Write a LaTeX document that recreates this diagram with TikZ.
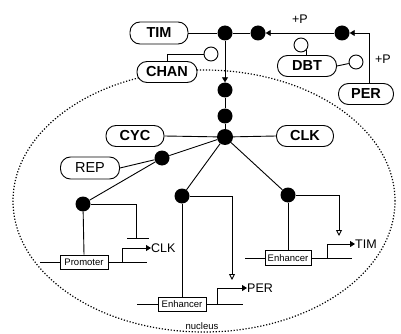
\documentclass[tikz,border=0pt]{standalone}
\usepackage{fontspec}
\setmainfont{Liberation Sans}
\usetikzlibrary{arrows.meta,calc}
\begin{document}
\begin{tikzpicture}[x=1pt,y=-1pt,
  ln/.style={line width=0.9pt},
  pill/.style={draw,line width=0.9pt,fill=white,rounded corners=10pt,inner sep=0pt,minimum height=21pt,font=\fontsize{14.5}{16}\selectfont\bfseries},
  pillr/.style={pill,font=\fontsize{14.5}{16}\selectfont},
  dot/.style={circle,fill=black,inner sep=0pt,minimum size=15pt},
  hubdot/.style={dot,minimum size=16pt},
  ocirc/.style={circle,draw,line width=0.9pt,fill=white,inner sep=0pt,minimum size=14pt},
  gbox/.style={draw,line width=0.8pt,fill=white,inner sep=0pt,minimum width=48pt,minimum height=14pt,font=\fontsize{9.5}{10}\selectfont},
  lbl/.style={inner sep=0pt,font=\fontsize{12.5}{14}\selectfont},
  fa/.style={-{Triangle[length=5pt,width=6pt]}},
  oa/.style={-{Triangle[open,length=6pt,width=6pt]}}
]
\useasboundingbox (0,0) rectangle (401,334);
% nucleus
\draw[line width=1.2pt,dash pattern=on 1.2pt off 1.8pt] (204,201) ellipse [x radius=191pt, y radius=131pt];
\node[inner sep=1pt,fill=white,font=\fontsize{9.5}{10}\selectfont] (lnuc) at (202,326) {nucleus};
% pills
\node[pill,minimum width=58pt,minimum height=22pt] (tim) at (159,33) {TIM};
\node[pill,minimum width=60pt] (chan) at (167,72) {CHAN};
\node[pill,minimum width=59pt] (dbt) at (307,66) {DBT};
\node[pill,minimum width=55pt] (per) at (366,94) {PER};
\node[pill,minimum width=58pt] (cyc) at (135,136) {CYC};
\node[pill,minimum width=57pt] (clk) at (305,136) {CLK};
\node[pillr,minimum width=59pt,minimum height=22pt] (rep) at (90,168) {REP};
% dots
\node[dot] (d1) at (225,33) {};
\node[dot] (d2) at (258,33) {};
\node[dot] (d3) at (342,33) {};
\node[dot] (d4) at (225,90) {};
\node[dot] (d5) at (225,116) {};
\node[hubdot] (hub) at (225,137) {};
\node[dot] (drep) at (162,158) {};
\node[dot] (dprom) at (83,204) {};
\node[dot] (denh1) at (182,196) {};
\node[dot] (denh2) at (288,195) {};
% small circles
\node[ocirc] (dbtc1) at (301,45) {};
\node[ocirc] (dbtc2) at (356,62) {};
\node[ocirc] (chc) at (211,54) {};
% labels
\node[lbl] (lp1) at (300,19) {+P};
\node[lbl] (lp2) at (383,59) {+P};
% top chain
\coordinate (pc) at (369,33);
\draw[ln] (tim.east) -- (d1);
\draw[ln] (d1) -- (d2);
\draw[ln,fa] (d3) -- (d2);
\draw[ln,fa] (pc |- per.north) -- (pc) -- (d3);
\draw[ln] (dbtc1.-45) -- (dbtc1.-45 |- dbt.north);
\draw[ln] (dbt.east) -- (dbtc2);
\draw[ln] (chan.north) |- (chc);
\draw[ln,fa] (d1) -- (d4);
\draw[ln] (d4) -- (d5) -- (hub);
\draw[ln] (cyc.east) -- (hub);
\draw[ln] (hub) -- (clk.west);
\draw[ln] (rep.east) -- (drep) -- (hub);
\draw[ln] (drep) -- (dprom);
\draw[ln] (hub) -- (denh1);
\draw[ln] (hub) -- (denh2);
% promoter
\coordinate (pdl) at (40,262);
\coordinate (pdr) at (147,262);
\coordinate (inhb) at (136,238);
\coordinate (inhl) at (127,238);
\coordinate (inhr) at (149,238);
\coordinate (ptsa) at (122,262);
\coordinate (ptsb) at (122,248);
\draw[ln] (pdl) -- (pdr);
\node[gbox] (prom) at (84,262) {Promoter};
\draw[ln] (dprom) -- (prom.north);
\draw[ln] (dprom) -| (inhb);
\draw[ln] (inhl) -- (inhr);
\node[lbl,anchor=west] (lclk) at (151,248) {CLK};
\draw[ln,fa] (ptsa) -- (ptsb) -- (lclk.west);
% enhancer 1
\coordinate (e1l) at (137,304);
\coordinate (e1r) at (243,304);
\coordinate (e1t) at (232,280);
\coordinate (e1a) at (217,304);
\coordinate (e1b) at (217,288);
\draw[ln] (e1l) -- (e1r);
\node[gbox] (enh1) at (182,304) {Enhancer};
\draw[ln] (denh1) -- (enh1.north);
\draw[ln,oa] (denh1) -| (e1t);
\node[lbl,anchor=west] (lper) at (247,288) {PER};
\draw[ln,fa] (e1a) -- (e1b) -- (lper.west);
% enhancer 2
\coordinate (e2l) at (245,258);
\coordinate (e2r) at (352,258);
\coordinate (e2t) at (339,236);
\coordinate (e2a) at (327,258);
\coordinate (e2b) at (327,244);
\draw[ln] (e2l) -- (e2r);
\node[gbox,minimum width=46pt,minimum height=15pt] (enh2) at (288,258) {Enhancer};
\draw[ln] (denh2) -- (enh2.north);
\draw[ln,oa] (denh2) -| (e2t);
\node[lbl,anchor=west] (ltim) at (355,244) {TIM};
\draw[ln,fa] (e2a) -- (e2b) -- (ltim.west);
\end{tikzpicture}
\end{document}
